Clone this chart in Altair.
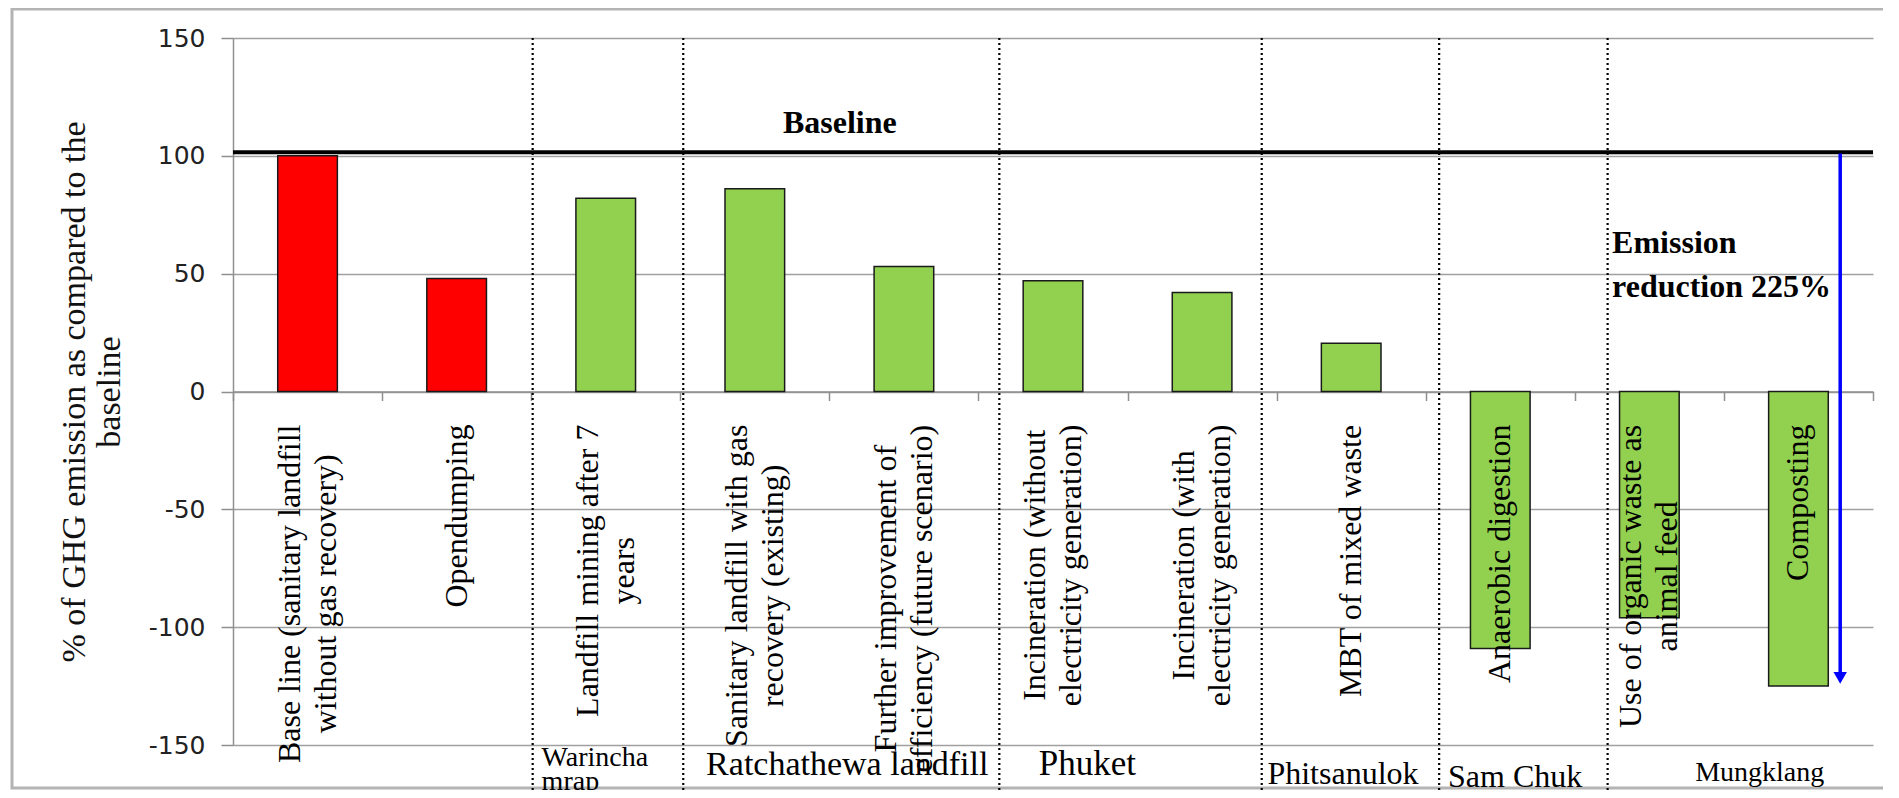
import altair as alt
import pandas as pd

# ---------------- data ----------------
categories = [
    "Base line (sanitary landfill\nwithout gas recovery)",
    "Opendumping",
    "Landfill mining after 7\nyears",
    "Sanitary landfill with gas\nrecovery (existing)",
    "Further improvement of\nefficiency (future scenario)",
    "Incineration (without\nelectricity generation)",
    "Incineration (with\nelectricity generation)",
    "MBT of mixed waste",
    "Anaerobic digestion",
    "Use of organic waste as\nanimal feed",
    "Composting",
]
values = [100, 48, 82, 86, 53, 47, 42, 20.5, -109, -96, -125]
bar_colors = ["#FF0000", "#FF0000"] + ["#92D050"] * 9

group_names = ["Ratchathewa landfill", "Phuket", "Phitsanulok", "Sam Chuk", "Mungklang"]
group_x = [4.12, 5.73, 7.445, 8.60, 10.24]
group_y = [-162.7, -162.7, -166.5, -168.0, -165.3]
first_group = "Warincha\nmrap"
first_group_x = 2.07
first_group_y = -158.9

separators = [2.01, 3.02, 5.14, 6.90, 8.09, 9.22]
baseline_value = 101.5
arrow_x = 10.78
arrow_bottom = -121.5

# ---------------- layout / style ----------------
W, H = 1640, 707
PX = H / 300.0          # pixels per y unit
BAND = W / 11.0         # pixels per category
FS = 32
LH = 36
SERIF = "Liberation Serif"
group_font_sizes = [34, 35, 32, 32, 28]

# Times-compatible advance widths (em) to place the rotated label blocks
tw = dict(zip("abcdefghijklmnopqrstuvwxyz",
              [.444, .5, .444, .5, .444, .333, .5, .5, .278, .278, .5, .278, .778,
               .5, .5, .5, .5, .333, .389, .278, .5, .5, .722, .5, .5, .444]))
tw.update(dict(zip("ABCDEFGHIJKLMNOPQRSTUVWXYZ",
                   [.722, .667, .667, .722, .611, .556, .722, .722, .333, .389, .722, .611, .889,
                    .722, .722, .556, .722, .667, .556, .611, .722, .722, .944, .722, .722, .611])))
tw.update({" ": .25, "(": .333, ")": .333, "%": .833})


def text_w(s):
    return sum(tw.get(c, .5) for c in s) * FS


rows = []
for i, (c, v, col) in enumerate(zip(categories, values, bar_colors)):
    lines = c.split("\n")
    maxw = max(text_w(l) for l in lines)
    rows.append(dict(i=i, x0=i + 0.3, x1=i + 0.7,
                     xc=i + 0.5 - (len(lines) - 1) * LH / 2 / BAND,
                     v=v, color=col, label=c, ly=-(33 + maxw / 2) / PX))
df = pd.DataFrame(rows)

xscale = alt.Scale(domain=[0, 11], nice=False, zero=False)
yscale = alt.Scale(domain=[-150, 150], nice=False, zero=False)
GRAY = "#8f8f8f"

one = alt.Data(values=[{}])

frame = alt.Chart(one).mark_rect(fillOpacity=0, stroke="#b4b4b4", strokeWidth=3).encode(
    x=alt.value(-221), x2=alt.value(1656), y=alt.value(-29), y2=alt.value(750))

bars = alt.Chart(df).mark_bar(stroke="#1a1a1a", strokeWidth=1.5).encode(
    x=alt.X("x0:Q", scale=xscale,
            axis=alt.Axis(values=list(range(12)), labels=False, tickSize=9, tickColor=GRAY,
                          tickWidth=1.5, domainColor=GRAY, domainWidth=1.5, grid=False,
                          title=None, orient="bottom", offset=-H / 2)),
    x2="x1:Q",
    y=alt.Y("v:Q", scale=yscale,
            axis=alt.Axis(values=[-150, -100, -50, 0, 50, 100, 150], grid=True,
                          gridColor="#a0a0a0", gridWidth=1.5, domainColor=GRAY, domainWidth=1.5,
                          tickColor=GRAY, tickWidth=1.5, tickSize=12,
                          labelExpr="datum.value + ''",
                          labelFont="DejaVu Sans", labelFontSize=25, labelColor="#222222",
                          labelPadding=16,
                          title=["% of GHG emission as compared to the", "baseline"],
                          titleFont=SERIF, titleFontSize=34, titleFontWeight="normal",
                          titleColor="#111111", titleAngle=270, titleX=-159, titleY=H / 2,
                          titleAlign="center", titleBaseline="middle", titleLineHeight=35)),
    y2=alt.datum(0),
    fill=alt.Fill("color:N", scale=None),
)

baseline_rule = alt.Chart(one).mark_rule(color="black", strokeWidth=4).encode(
    x=alt.datum(0), x2=alt.datum(11), y=alt.datum(baseline_value))

sep = alt.Chart(pd.DataFrame({"s": separators})).mark_rule(
    color="black", strokeWidth=2.2, strokeDash=[2, 3]).encode(
    x="s:Q", y=alt.value(0), y2=alt.value(H + 60))

labels = alt.Chart(df).mark_text(angle=270, align="center", baseline="middle", font=SERIF,
                                 fontSize=FS, lineBreak="\n", lineHeight=LH, color="black").encode(
    x="xc:Q", y="ly:Q", text="label:N")

gdf = pd.DataFrame({"g": group_names, "gx": group_x, "gy": group_y, "fs": group_font_sizes})
glabels = alt.Chart(gdf).mark_text(align="center", baseline="alphabetic", font=SERIF,
                                   color="black").encode(
    x="gx:Q", y="gy:Q", text="g:N", size=alt.Size("fs:Q", scale=None, legend=None))

glabel0 = alt.Chart(one).mark_text(align="left", baseline="alphabetic", font=SERIF, fontSize=28,
                                   lineBreak="\n", lineHeight=24, color="black",
                                   text=first_group).encode(
    x=alt.datum(first_group_x), y=alt.datum(first_group_y))

base_txt = alt.Chart(one).mark_text(align="center", baseline="alphabetic", font=SERIF,
                                    fontSize=32, fontWeight="bold", color="black",
                                    text="Baseline").encode(
    x=alt.datum(4.07), y=alt.datum(109.8))

emis = alt.Chart(one).mark_text(align="left", baseline="alphabetic", font=SERIF, fontSize=32,
                                fontWeight="bold", color="black", lineBreak="\n", lineHeight=44,
                                text="Emission\nreduction 225%").encode(
    x=alt.datum(9.25), y=alt.datum(58.8))

arrow = alt.Chart(one).mark_rule(color="#0000FF", strokeWidth=3.5).encode(
    x=alt.datum(arrow_x), y=alt.datum(baseline_value - 0.5), y2=alt.datum(arrow_bottom + 2))

head = alt.Chart(one).mark_point(shape="triangle-down", filled=True, size=180, color="#0000FF",
                                 opacity=1).encode(
    x=alt.datum(arrow_x), y=alt.datum(arrow_bottom))

chart = alt.layer(frame, bars, baseline_rule, sep, labels, glabels, glabel0, base_txt, emis,
                  arrow, head).properties(
    width=W, height=H,
    padding={"left": 225, "top": 30, "right": 10, "bottom": 45},
    autosize=alt.AutoSizeParams(type="none"),
).configure_view(stroke=None)

chart.save("out.html", embed_options={"renderer": "svg", "actions": False})
